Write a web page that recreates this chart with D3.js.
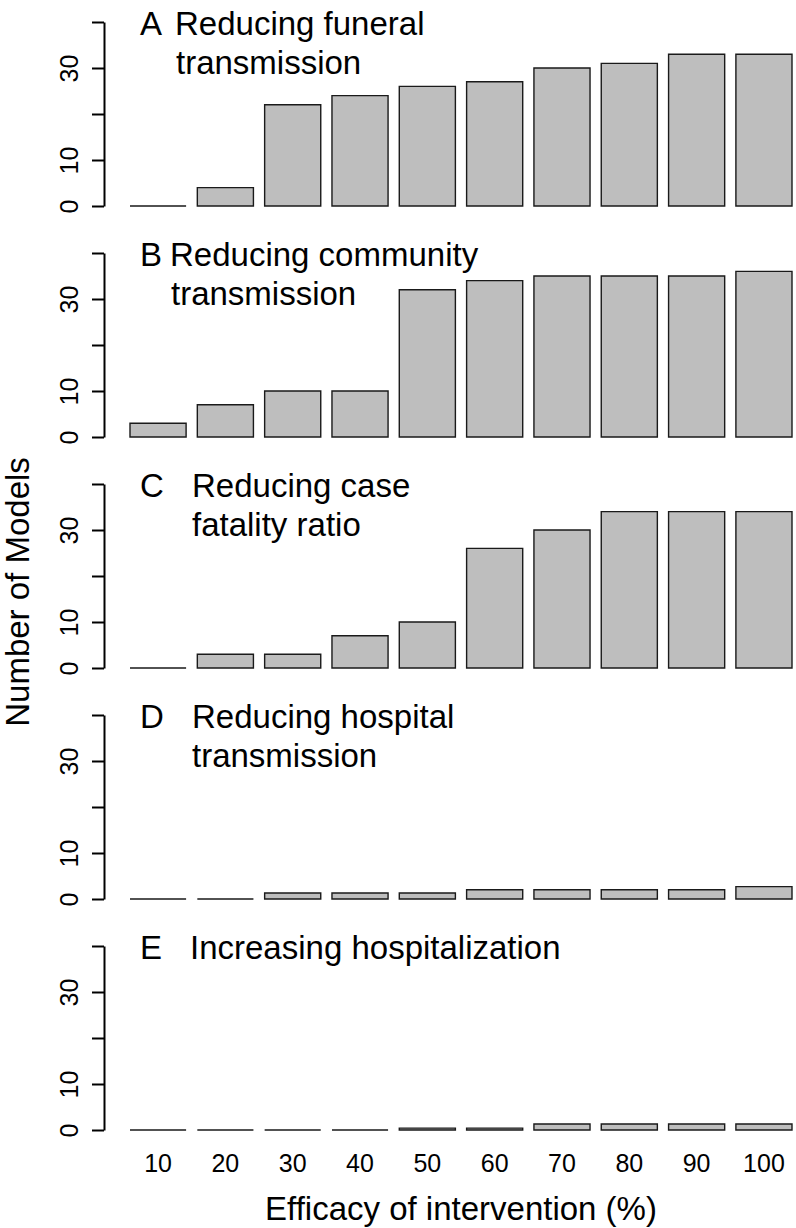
<!DOCTYPE html>
<html>
<head>
<meta charset="utf-8">
<script src="https://cdn.jsdelivr.net/npm/d3@7"></script>
<style>
  html, body { margin: 0; padding: 0; background: #fff; }
  svg { display: block; font-family: "Liberation Sans", Arial, Helvetica, sans-serif; }
</style>
</head>
<body>
<svg id="chart" width="796" height="1228"></svg>
<script>
// ---------- data ----------
const categories = ["10", "20", "30", "40", "50", "60", "70", "80", "90", "100"];
const panelLetters = ["A", "B", "C", "D", "E"];
const panelTitles = [
  ["Reducing funeral", "transmission"],
  ["Reducing community", "transmission"],
  ["Reducing case", "fatality ratio"],
  ["Reducing hospital", "transmission"],
  ["Increasing hospitalization"]
];
const funeralTransmission   = [0, 4, 22, 24, 26, 27, 30, 31, 33, 33];
const communityTransmission = [3, 7, 10, 10, 32, 34, 35, 35, 35, 36];
const caseFatality          = [0, 3, 3, 7, 10, 26, 30, 34, 34, 34];
const hospitalTransmission  = [0, 0, 1.3, 1.3, 1.3, 2, 2, 2, 2, 2.7];
const hospitalization       = [0, 0, 0, 0, 0.4, 0.4, 1.3, 1.3, 1.3, 1.3];
const yTickValues = [0, 10, 20, 30, 40];
const yTickLabels = [0, 10, 30];
const xTitle = "Efficacy of intervention (%)";
const yTitle = "Number of Models";

const seriesList = [funeralTransmission, communityTransmission, caseFatality, hospitalTransmission, hospitalization];

// ---------- layout ----------
const axisX = 104;
const panelBottom0 = 206, panelStep = 231, panelHeight = 184;
const titleIndent = [[175, 176], [170, 171], [192, 192], [192, 192], [190]];
const letterX = 140;

const svg = d3.select("#chart");

const x = d3.scaleBand()
  .domain(categories)
  .range([130, 792])
  .paddingInner(1 / 6)
  .paddingOuter(0);

seriesList.forEach((values, i) => {
  const y0 = panelBottom0 + panelStep * i;
  const y = d3.scaleLinear().domain([0, 40]).range([y0, y0 - panelHeight]);
  const g = svg.append("g");

  // bars (paths, so zero-height bars still show as a line)
  g.selectAll("path.bar")
    .data(values.map((v, j) => ({ v, c: categories[j] })))
    .enter().append("path")
    .attr("class", "bar")
    .attr("d", d => {
      const x0 = x(d.c), x1 = x(d.c) + x.bandwidth();
      const yb = y(0), yt = y(d.v);
      return `M${x0},${yb}H${x1}V${yt}H${x0}Z`;
    })
    .attr("fill", "#bebebe")
    .attr("stroke", "#1a1a1a")
    .attr("stroke-width", 1.4);

  // y axis
  const ax = g.append("g")
    .attr("transform", `translate(${axisX},0)`)
    .call(d3.axisLeft(y)
      .tickValues(yTickValues)
      .tickSize(12)
      .tickSizeOuter(0)
      .tickFormat(d => yTickLabels.includes(d) ? String(d) : ""));
  ax.select(".domain").attr("stroke", "#000").attr("stroke-width", 2);
  ax.selectAll(".tick line").attr("stroke", "#000").attr("stroke-width", 2);
  ax.selectAll(".tick text")
    .attr("x", null).attr("dy", null)
    .attr("transform", "translate(-26,0) rotate(-90)")
    .attr("text-anchor", "middle")
    .attr("fill", "#000")
    .style("font-size", "25px")
    .style("font-family", "'Liberation Sans', Arial, sans-serif");

  // panel title
  const yTop = y(40);
  g.append("text")
    .attr("x", letterX).attr("y", yTop + 13)
    .style("font-size", "33px").attr("fill", "#000")
    .text(panelLetters[i]);
  panelTitles[i].forEach((line, k) => {
    g.append("text")
      .attr("x", titleIndent[i][k])
      .attr("y", yTop + 13 + k * 38.5)
      .style("font-size", "33px").attr("fill", "#000")
      .text(line);
  });

  // x labels on last panel
  if (i === seriesList.length - 1) {
    const xa = g.append("g")
      .attr("transform", `translate(0,${y0})`)
      .call(d3.axisBottom(x).tickSize(0));
    xa.select(".domain").remove();
    xa.selectAll(".tick text")
      .attr("y", 42).attr("dy", null)
      .attr("fill", "#000")
      .style("font-size", "25px")
      .style("font-family", "'Liberation Sans', Arial, sans-serif");
  }
});

// axis titles
svg.append("text")
  .attr("x", 461).attr("y", 1220)
  .attr("text-anchor", "middle")
  .style("font-size", "33px").attr("fill", "#000")
  .text(xTitle);

svg.append("text")
  .attr("transform", "translate(29,592) rotate(-90)")
  .attr("text-anchor", "middle")
  .style("font-size", "33px").attr("fill", "#000")
  .text(yTitle);
</script>
</body>
</html>
